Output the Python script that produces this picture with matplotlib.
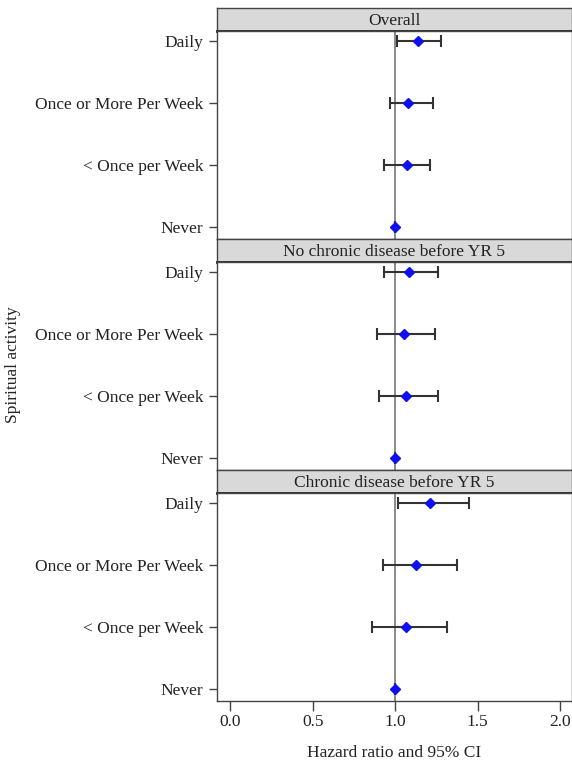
import numpy as np
import matplotlib.pyplot as plt

plt.rcParams['font.family'] = ['Liberation Serif', 'DejaVu Serif']

categories = ['Daily', 'Once or More Per Week', '< Once per Week', 'Never']
panels = ['Overall', 'No chronic disease before YR 5', 'Chronic disease before YR 5']

hr = [
    [1.14, 1.08, 1.07, 1.0],
    [1.085, 1.055, 1.067, 1.0],
    [1.21, 1.125, 1.067, 1.0],
]
lo = [
    [1.01, 0.97, 0.93, 1.0],
    [0.93, 0.89, 0.905, 1.0],
    [1.015, 0.925, 0.86, 1.0],
]
hi = [
    [1.28, 1.23, 1.21, 1.0],
    [1.26, 1.24, 1.26, 1.0],
    [1.45, 1.375, 1.315, 1.0],
]

W, H = 572, 767
fig = plt.figure(figsize=(W / 100, H / 100), dpi=100)

left = 217 / W
width = 1.0 - left - 0.5 / W
strip_h = 23
panel_h = 208
top = 8
ypos = np.arange(len(categories))[::-1]  # Daily at top

for i, name in enumerate(panels):
    s_top = top + i * (strip_h + panel_h)
    p_top = s_top + strip_h
    sax = fig.add_axes([left, 1 - p_top / H, width, strip_h / H])
    sax.set_facecolor('#d9d9d9')
    sax.set_xticks([])
    sax.set_yticks([])
    for sp in sax.spines.values():
        sp.set_color('#444444')
        sp.set_linewidth(1.0)
    sax.spines['bottom'].set_linewidth(2.0)
    sax.spines['bottom'].set_color('#222222')
    sax.text(0.5, 0.45, name, transform=sax.transAxes, ha='center', va='center',
             fontsize=12.5, color='#222222')

    ax = fig.add_axes([left, 1 - (p_top + panel_h) / H, width, panel_h / H])
    ax.axvline(1.0, color='#777777', lw=1.2, zorder=1)
    h = np.array(hr[i])
    l = np.array(lo[i])
    u = np.array(hi[i])
    ax.errorbar(h, ypos, xerr=[h - l, u - h], fmt='none', ecolor='#333333',
                elinewidth=1.5, capsize=4, capthick=1.5, zorder=2)
    ax.plot(h, ypos, 'D', color='#1010ee', markersize=5.5, zorder=3)
    ax.set_xlim(-0.08, 2.07)
    ax.set_ylim(-0.19, 3.16)
    ax.set_yticks(ypos)
    ax.set_yticklabels(categories, fontsize=12.5, color='#222222')
    ax.tick_params(axis='y', length=6, width=1.0, color='#444444', pad=4)
    for sp in ax.spines.values():
        sp.set_color('#444444')
        sp.set_linewidth(1.0)
    if i < len(panels) - 1:
        ax.set_xticks([])
    else:
        ax.set_xticks([0.0, 0.5, 1.0, 1.5, 2.0])
        ax.set_xticklabels(['0.0', '0.5', '1.0', '1.5', '2.0'], fontsize=12.5, color='#222222')
        ax.tick_params(axis='x', length=7, width=1.0, color='#444444', pad=2)
        ax.set_xlabel('Hazard ratio and 95% CI', fontsize=12.5, color='#222222', labelpad=11)

fig.text(13 / W, 1 - 365 / H, 'Spiritual activity', rotation=90, ha='center', va='center',
         fontsize=12.5, color='#222222')

fig.savefig('out.png', dpi=100)
